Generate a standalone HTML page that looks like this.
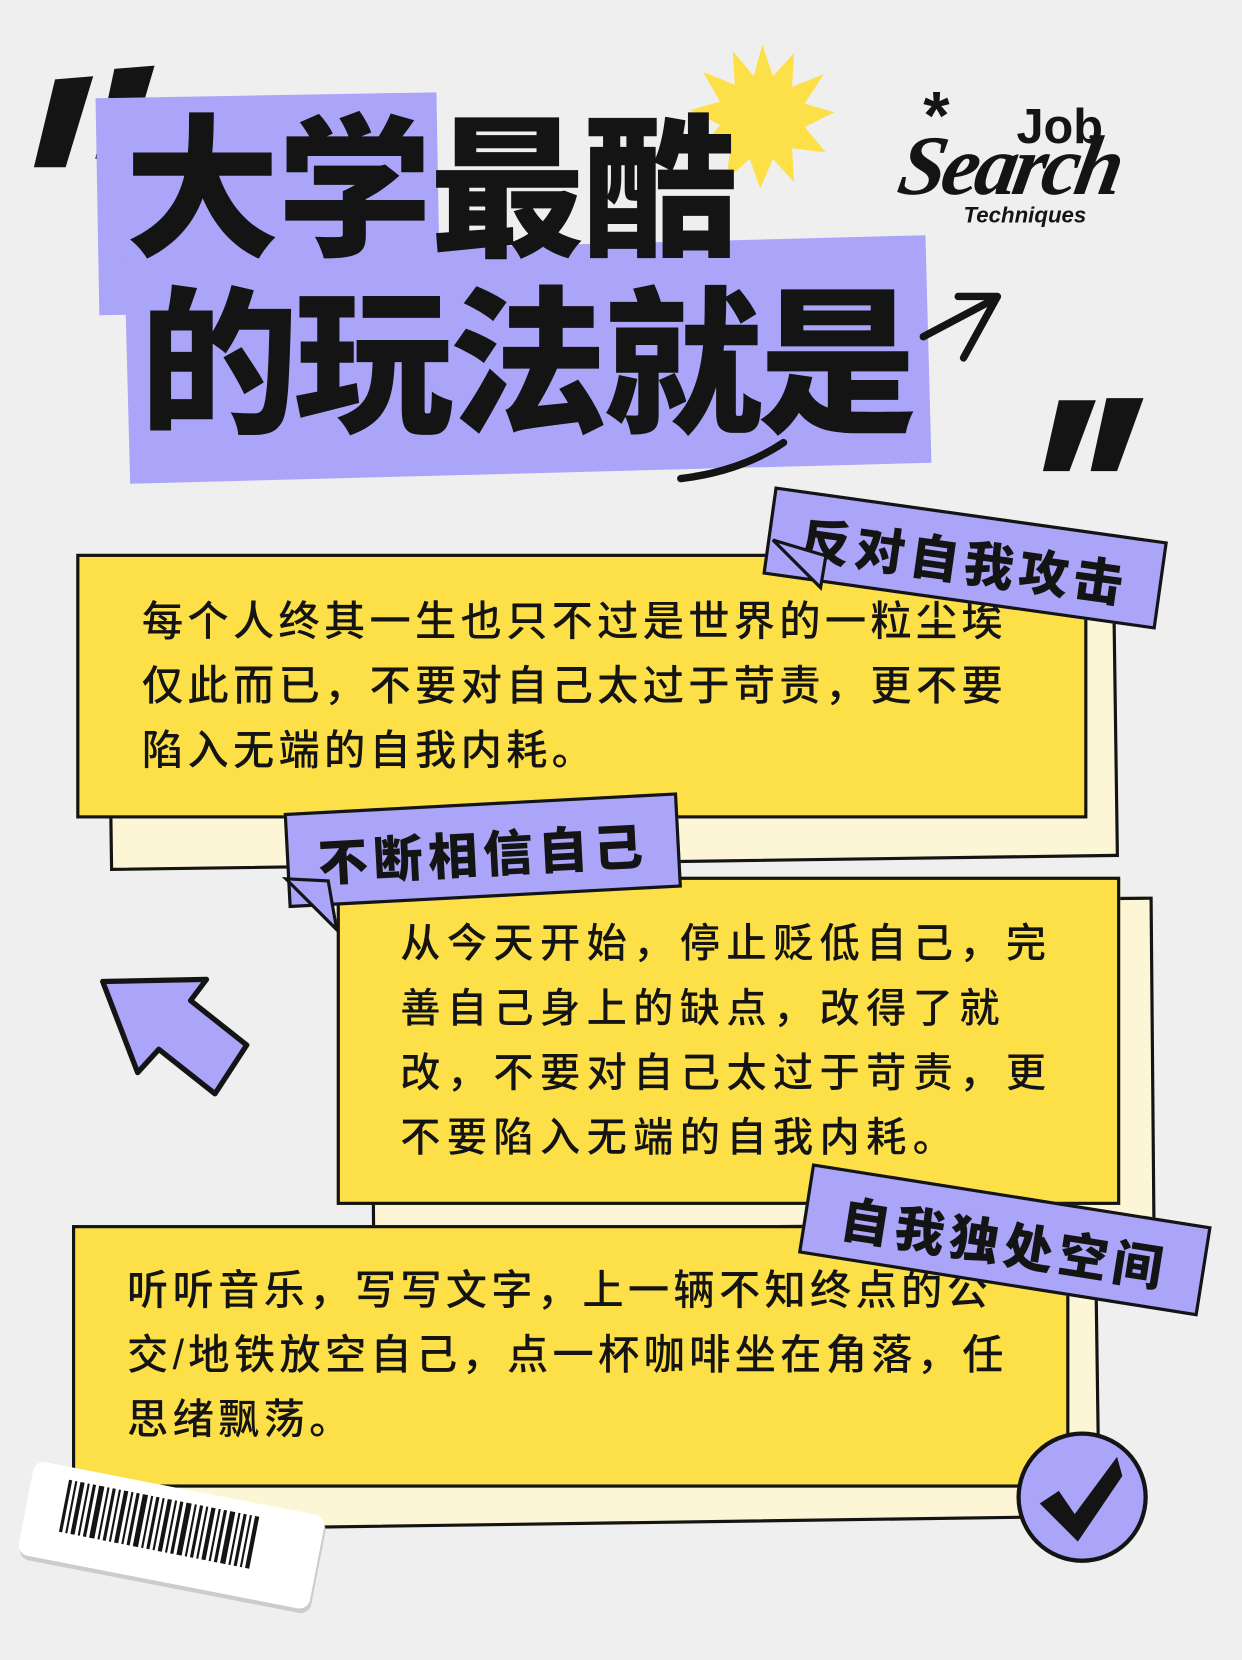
<!DOCTYPE html>
<html><head><meta charset="utf-8"><style>
html,body{margin:0;padding:0;background:#efefef;}
body{width:1242px;height:1660px;overflow:hidden;position:relative;}
#w{position:absolute;left:0;top:0;width:1173px;height:1568px;transform:scale(1.05882);transform-origin:0 0;font-family:"Liberation Sans","Noto Sans CJK SC",sans-serif;}
.a{position:absolute;box-sizing:border-box;}
.p{background:#aaa5f8;}
.y{background:#fde047;border:3px solid #141414;}
.c{background:#fdf6d6;border:3px solid #141414;}
.t{font-weight:700;color:#141414;white-space:nowrap;}
.tag{background:#aaa5f8;border:3px solid #141414;font-size:47px;font-weight:900;color:#141414;letter-spacing:5px;display:flex;align-items:center;justify-content:center;}
.body{font-size:39px;font-weight:500;color:#141414;line-height:61px;white-space:nowrap;letter-spacing:4px;}
</style></head><body><div id="w">
<!-- quotes -->
<svg class="a" style="left:0;top:0" width="1173" height="500"><g fill="#141414">
<polygon points="52,75 88,72 62,158 32,158"/><polygon points="108,65 146,62 120,150 90,150"/>
<polygon points="1000,378 1035,378 1010,445 985,445"/><polygon points="1045,376 1080,376 1055,445 1030,445"/>
</g></svg>
<!-- purple blocks -->
<div class="a p" style="left:92px;top:90px;width:322px;height:205px;transform:rotate(-1deg);"></div>
<div class="a p" style="left:120px;top:232px;width:757px;height:215px;transform:rotate(-1.5deg);"></div>
<!-- starburst -->
<svg class="a" style="left:650px;top:40px" width="140" height="140" viewBox="-70 -70 140 140"><polygon fill="#fde047" points="0,-68 10,-38 30,-60 28,-28 58,-40 40,-12 68,-4 40,10 60,34 28,30 30,62 10,40 -2,68 -12,40 -34,60 -30,28 -62,36 -40,8 -68,-6 -40,-14 -56,-42 -26,-30 -28,-62 -8,-38"/></svg>
<!-- title -->
<div class="a t" style="left:118px;top:108px;font-size:146px;line-height:1;font-weight:900;letter-spacing:-2px;">大学最酷</div>
<div class="a t" style="left:132px;top:270px;font-size:150px;line-height:1;font-weight:900;letter-spacing:-4px;">的玩法就是</div>
<!-- logo -->
<div class="a t" style="left:872px;top:72px;font-size:64px;font-weight:900;">*</div>
<div class="a t" style="left:960px;top:92px;font-size:46px;font-weight:900;">Job</div>
<div class="a t" style="left:850px;top:112px;font-size:80px;font-weight:900;font-style:italic;font-family:'Liberation Serif',serif;letter-spacing:-4px;transform:skewX(-10deg);">Search</div>
<div class="a t" style="left:910px;top:192px;font-size:21px;font-weight:900;font-style:italic;">Techniques</div>
<!-- lines -->
<svg class="a" style="left:0;top:0" width="1173" height="1568">
<g stroke="#141414" stroke-width="7" fill="none" stroke-linecap="round" stroke-linejoin="round">
<path d="M872 318 L940 282 M905 280 L942 280 L910 338"/>
<path d="M643 452 Q700 445 740 418"/>
</g>
</svg>
<!-- card 1 -->
<div class="a c" style="left:102px;top:548px;width:953px;height:268px;transform:rotate(-0.8deg);"></div>
<div class="a y" style="left:72px;top:523px;width:955px;height:250px;"></div>
<div class="a body" style="left:134px;top:557px;">每个人终其一生也只不过是世界的一粒尘埃<br>仅此而已，不要对自己太过于苛责，更不要<br>陷入无端的自我内耗。</div>
<div class="a tag" style="left:724px;top:485px;width:375px;height:84px;transform:rotate(8deg);">反对自我攻击</div>
<svg class="a" style="left:700px;top:500px" width="100" height="70"><polygon points="30,10 80,25 75,55" fill="#aaa5f8" stroke="#141414" stroke-width="3"/></svg>
<!-- card 2 -->
<div class="a c" style="left:350px;top:850px;width:740px;height:310px;transform:rotate(-0.5deg);"></div>
<div class="a y" style="left:318px;top:828px;width:740px;height:310px;"></div>
<div class="a body" style="left:378px;top:862px;font-size:38px;letter-spacing:6px;">从今天开始，停止贬低自己，完<br>善自己身上的缺点，改得了就<br>改，不要对自己太过于苛责，更<br>不要陷入无端的自我内耗。</div>
<div class="a tag" style="left:270px;top:758px;width:372px;height:90px;transform:rotate(-3deg);">不断相信自己</div>
<svg class="a" style="left:260px;top:820px" width="80" height="70"><polygon points="10,10 50,12 58,58" fill="#aaa5f8" stroke="#141414" stroke-width="3"/></svg>
<!-- arrow -->
<svg class="a" style="left:85px;top:915px" width="160" height="130"><polygon points="12,12 110,10 95,30 148,72 118,118 65,76 45,98" fill="#aaa5f8" stroke="#141414" stroke-width="5" stroke-linejoin="round"/></svg>
<!-- card 3 -->
<div class="a c" style="left:98px;top:1185px;width:940px;height:255px;transform:rotate(-0.8deg);"></div>
<div class="a y" style="left:68px;top:1157px;width:942px;height:248px;"></div>
<div class="a body" style="left:120px;top:1189px;">听听音乐，写写文字，上一辆不知终点的公<br>交/地铁放空自己，点一杯咖啡坐在角落，任<br>思绪飘荡。</div>
<div class="a tag" style="left:758px;top:1128px;width:382px;height:86px;transform:rotate(9deg);">自我独处空间</div>
<!-- check -->
<div class="a" style="left:960px;top:1352px;width:124px;height:124px;border-radius:50%;background:#aaa5f8;border:4px solid #141414;"></div>
<svg class="a" style="left:960px;top:1352px" width="124" height="124"><path d="M22 68 L40 56 L55 78 L95 24 L100 42 L58 104 Z" fill="#141414"/></svg>
<!-- barcode -->
<div class="a" style="left:22px;top:1405px;width:280px;height:90px;background:#fff;border-radius:10px;transform:rotate(11deg);box-shadow:2px 4px 0 #ccc;">
<svg width="280" height="90"><g fill="#141414">
<rect x="35" y="12" width="3" height="50"/><rect x="41" y="12" width="2" height="50"/><rect x="46" y="12" width="4" height="50"/><rect x="53" y="12" width="2" height="50"/><rect x="58" y="12" width="3" height="50"/><rect x="64" y="12" width="5" height="50"/><rect x="72" y="12" width="2" height="50"/><rect x="77" y="12" width="3" height="50"/><rect x="83" y="12" width="2" height="50"/><rect x="88" y="12" width="4" height="50"/><rect x="95" y="12" width="2" height="50"/><rect x="100" y="12" width="3" height="50"/><rect x="106" y="12" width="5" height="50"/><rect x="114" y="12" width="2" height="50"/><rect x="119" y="12" width="3" height="50"/><rect x="125" y="12" width="2" height="50"/><rect x="130" y="12" width="4" height="50"/><rect x="137" y="12" width="2" height="50"/><rect x="142" y="12" width="3" height="50"/><rect x="148" y="12" width="5" height="50"/><rect x="156" y="12" width="2" height="50"/><rect x="161" y="12" width="3" height="50"/><rect x="167" y="12" width="2" height="50"/><rect x="172" y="12" width="4" height="50"/><rect x="179" y="12" width="2" height="50"/><rect x="184" y="12" width="3" height="50"/><rect x="190" y="12" width="5" height="50"/><rect x="198" y="12" width="2" height="50"/><rect x="203" y="12" width="3" height="50"/><rect x="209" y="12" width="2" height="50"/><rect x="214" y="12" width="4" height="50"/>
</g></svg></div>
</div></body></html>
